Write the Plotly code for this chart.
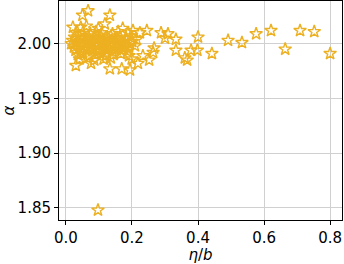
import plotly.graph_objects as go

# eta/b values (x) and alpha values (y)
eta_b = [
    # upper stragglers
    0.050, 0.067, 0.133, 0.118, 0.021, 0.045, 0.062, 0.098, 0.172,
    # y ~ 2.010
    0.030, 0.052, 0.074, 0.091, 0.108, 0.141, 0.158, 0.188, 0.203, 0.224,
    # y ~ 2.006
    0.026, 0.041, 0.056, 0.069, 0.086, 0.101, 0.121, 0.136, 0.149, 0.164, 0.182, 0.196,
    # y ~ 2.003
    0.020, 0.036, 0.049, 0.066, 0.079, 0.094, 0.112, 0.126, 0.139, 0.156, 0.171, 0.184, 0.201, 0.214,
    # y ~ 2.000
    0.016, 0.031, 0.046, 0.059, 0.076, 0.089, 0.106, 0.119, 0.134, 0.151, 0.166, 0.179, 0.194,
    # y ~ 1.997
    0.024, 0.039, 0.054, 0.071, 0.084, 0.099, 0.116, 0.129, 0.146, 0.161, 0.176, 0.191, 0.209,
    # y ~ 1.994
    0.029, 0.044, 0.061, 0.081, 0.096, 0.109, 0.124, 0.141, 0.154, 0.169, 0.186,
    # y ~ 1.990
    0.036, 0.051, 0.071, 0.089, 0.104, 0.121, 0.144, 0.166, 0.191,
    # y ~ 1.986
    0.041, 0.064, 0.086, 0.114, 0.136, 0.199,
    # lower stragglers
    0.030, 0.076, 0.133, 0.169, 0.194, 0.218, 0.233,
    # mid range
    0.245, 0.288, 0.309, 0.300, 0.333, 0.267, 0.264, 0.252, 0.333, 0.360, 0.367, 0.379, 0.400, 0.398,
    # right side
    0.442, 0.491, 0.533, 0.576, 0.621, 0.664, 0.709, 0.752, 0.800,
    # outlier
    0.097,
]
alpha = [
    2.026, 2.030, 2.026, 2.018, 2.015, 2.015, 2.016, 2.014, 2.014,
    2.010, 2.011, 2.009, 2.011, 2.010, 2.009, 2.011, 2.010, 2.012, 2.010,
    2.006, 2.007, 2.005, 2.006, 2.007, 2.005, 2.006, 2.007, 2.005, 2.006, 2.005, 2.007,
    2.003, 2.002, 2.004, 2.003, 2.002, 2.003, 2.004, 2.002, 2.003, 2.004, 2.002, 2.003, 2.002, 2.004,
    2.000, 2.001, 1.999, 2.000, 2.001, 1.999, 2.000, 2.001, 1.999, 2.000, 2.001, 1.999, 2.000,
    1.997, 1.996, 1.998, 1.997, 1.996, 1.998, 1.997, 1.996, 1.998, 1.997, 1.996, 1.997, 1.998,
    1.994, 1.993, 1.995, 1.994, 1.993, 1.995, 1.994, 1.993, 1.995, 1.994, 1.993,
    1.990, 1.991, 1.989, 1.990, 1.991, 1.989, 1.990, 1.991, 1.989,
    1.986, 1.987, 1.985, 1.986, 1.987, 1.986,
    1.980, 1.982, 1.977, 1.977, 1.976, 1.982, 1.989,
    2.012, 2.010, 2.009, 2.005, 2.004, 1.996, 1.992, 1.985, 1.994, 1.987, 1.985, 1.994, 2.006, 1.994,
    1.991, 2.003, 2.001, 2.009, 2.012, 1.995, 2.012, 2.011, 1.991,
    1.848,
]

x_ticks = [0.0, 0.2, 0.4, 0.6, 0.8]
x_tick_text = ["0.0", "0.2", "0.4", "0.6", "0.8"]
y_ticks = [1.85, 1.90, 1.95, 2.00]
y_tick_text = ["1.85", "1.90", "1.95", "2.00"]

FONT = dict(family="DejaVu Sans", size=15, color="black")

fig = go.Figure()
fig.add_trace(go.Scatter(
    x=eta_b, y=alpha, mode="markers",
    marker=dict(symbol="star-open", size=9.5, color="#EDB021",
                line=dict(width=1.4, color="#EDB021")),
    showlegend=False,
))

axis_common = dict(
    showline=True, linecolor="black", linewidth=1, mirror=True,
    ticks="outside", ticklen=4, tickwidth=1, tickcolor="black",
    showgrid=True, gridcolor="#d0d0d0", gridwidth=1, zeroline=False,
    tickfont=FONT, automargin=False,
)
fig.update_xaxes(range=[-0.021, 0.836], tickvals=x_ticks, ticktext=x_tick_text,
                 title=dict(text="<i>η</i>/<i>b</i>", standoff=0, font=FONT),
                 **axis_common)
fig.update_yaxes(range=[1.839, 2.039], tickvals=y_ticks, ticktext=y_tick_text,
                 title=dict(text="<i>α</i>", standoff=4, font=FONT),
                 **axis_common)
fig.update_layout(
    width=344, height=264,
    margin=dict(l=59, r=2, t=1, b=44),
    paper_bgcolor="white", plot_bgcolor="white",
)
fig.write_html("out.html",
               config={"displayModeBar": False},
               post_script="document.body.style.margin='0';document.body.style.overflow='hidden';")
